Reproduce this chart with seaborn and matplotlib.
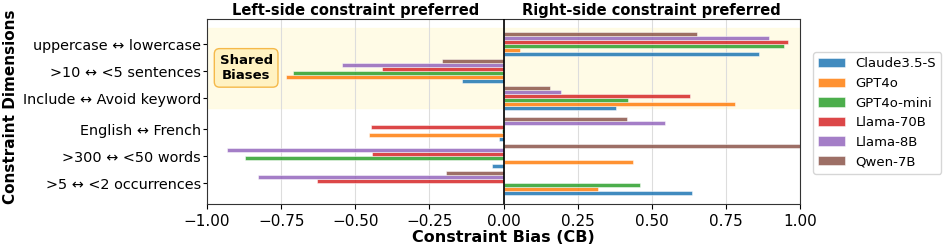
import numpy as np
import pandas as pd
import matplotlib
matplotlib.use("Agg")
import matplotlib.pyplot as plt
import seaborn as sns

# Constraint dimensions (top to bottom)
dimensions = [
    "uppercase \u2194 lowercase",
    ">10 \u2194 <5 sentences",
    "Include \u2194 Avoid keyword",
    "English \u2194 French",
    ">300 \u2194 <50 words",
    ">5 \u2194 <2 occurrences",
]
models = ["Claude3.5-S", "GPT4o", "GPT4o-mini", "Llama-70B", "Llama-8B", "Qwen-7B"]

# Constraint bias per model, same order as dimensions
claude = [0.863, -0.141, 0.378, -0.015, -0.040, 0.635]
gpt4o = [0.056, -0.732, 0.782, -0.455, 0.436, 0.320]
gpt4o_mini = [0.945, -0.709, 0.420, -0.005, -0.872, 0.459]
llama70 = [0.961, -0.411, 0.628, -0.446, -0.442, -0.628]
llama8 = [0.894, -0.544, 0.193, 0.545, -0.932, -0.829]
qwen = [0.652, -0.206, 0.156, 0.417, 1.000, -0.195]

# y positions, with a small gap between the shared-bias group and the rest
ypos = [5.15, 4.15, 3.15, 2.0, 1.0, 0.0]

rows = []
for name, vals in zip(models, [claude, gpt4o, gpt4o_mini, llama70, llama8, qwen]):
    for y, v in zip(ypos, vals):
        rows.append({"y": y, "bias": v, "model": name})
df = pd.DataFrame(rows)

palette = sns.color_palette("tab10", 6)

fig = plt.figure(figsize=(9.47, 2.45), dpi=100)
ax = fig.add_axes([0.2186, 0.167, 0.6262, 0.754])

ax.axhspan(2.77, 5.75, color="#fffbe0", alpha=0.8, zorder=0)

sns.barplot(data=df, x="bias", y="y", hue="model", hue_order=models,
            orient="h", native_scale=True, width=0.9, palette=palette,
            saturation=1, alpha=0.85, edgecolor="white", linewidth=0.4,
            ax=ax, zorder=2)

ax.axvline(0, color="black", linewidth=1.2, zorder=3)
ax.set_xlim(-1.0, 1.0)
ax.set_ylim(-0.78, 6.07)
ax.set_yticks(ypos)
ax.set_yticklabels(dimensions, fontsize=10.4)
ax.tick_params(axis="y", length=3, pad=1.5)
ax.set_xticks([-1.0, -0.75, -0.5, -0.25, 0.0, 0.25, 0.5, 0.75, 1.0])
ax.set_xticklabels(["\u22121.00", "\u22120.75", "\u22120.50", "\u22120.25", "0.00",
                    "0.25", "0.50", "0.75", "1.00"], fontsize=11)
ax.grid(axis="x", color="#dddddd", linewidth=0.8, zorder=1)
ax.set_axisbelow(True)
for s in ax.spines.values():
    s.set_color("#333333")

ax.set_xlabel("Constraint Bias (CB)", fontsize=11.5, fontweight="bold", labelpad=1)
ax.set_ylabel("Constraint Dimensions", fontsize=11, fontweight="bold")
ax.yaxis.set_label_coords(-0.318, 0.525)

ax.text(-0.5, 1.01, "Left-side constraint preferred", transform=ax.get_xaxis_transform(),
        ha="center", va="bottom", fontsize=10.5, fontweight="bold")
ax.text(0.5, 1.01, "Right-side constraint preferred", transform=ax.get_xaxis_transform(),
        ha="center", va="bottom", fontsize=10.5, fontweight="bold")

ax.text(-0.868, 4.27, "Shared\nBiases", ha="center", va="center", fontsize=9.5,
        fontweight="bold", zorder=4,
        bbox=dict(boxstyle="round,pad=0.4", facecolor="#fff2c2", edgecolor="#f5b94a",
                  linewidth=1))

ax.legend(loc="upper left", bbox_to_anchor=(1.022, 0.823), borderaxespad=0,
          fontsize=9.5, frameon=True, borderpad=0.4, labelspacing=0.5,
          handlelength=2.0, handletextpad=0.8)

fig.savefig("out.png", dpi=100)
